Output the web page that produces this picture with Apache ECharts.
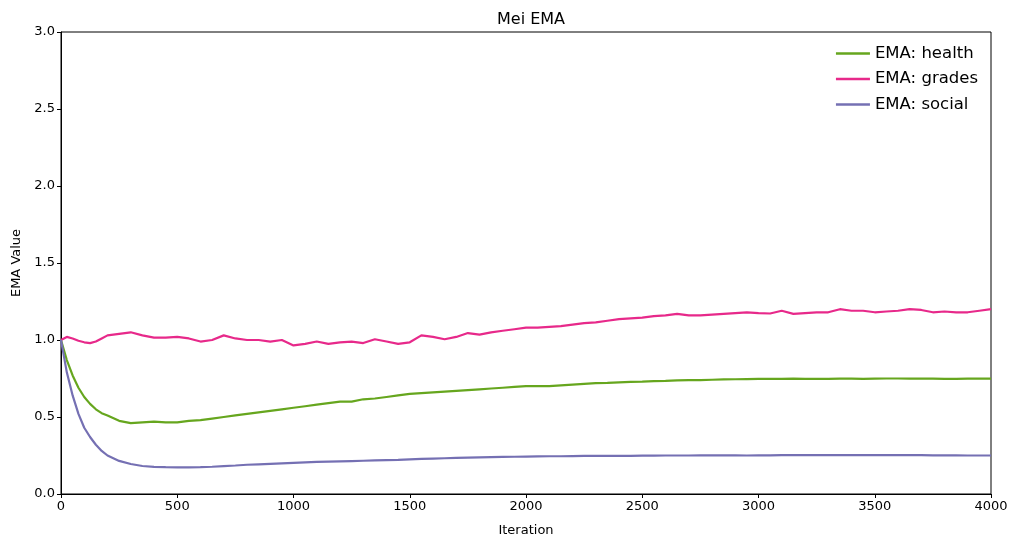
<!DOCTYPE html>
<html>
<head>
<meta charset="utf-8">
<script src="https://cdn.jsdelivr.net/npm/echarts@6/dist/echarts.min.js"></script>
<style>
  html, body { margin: 0; padding: 0; background: #fff; }
  #chart { width: 1018px; height: 547px; }
</style>
</head>
<body>
<div id="chart"></div>
<script>
// iteration numbers (x)
var iterations = [0, 25, 50, 75, 100, 125, 150, 175,
  200, 250, 300, 350, 400, 450, 500, 550, 600, 650,
  700, 750, 800, 850, 900, 950, 1000, 1050, 1100, 1150,
  1200, 1250, 1300, 1350, 1400, 1450, 1500, 1550, 1600, 1650,
  1700, 1750, 1800, 1850, 1900, 1950, 2000, 2050, 2100, 2150,
  2200, 2250, 2300, 2350, 2400, 2450, 2500, 2550, 2600, 2650,
  2700, 2750, 2800, 2850, 2900, 2950, 3000, 3050, 3100, 3150,
  3200, 3250, 3300, 3350, 3400, 3450, 3500, 3550, 3600, 3650,
  3700, 3750, 3800, 3850, 3900, 3950, 4000];

var health = [1.0, 0.87, 0.77, 0.69, 0.63, 0.585, 0.55, 0.525,
  0.51, 0.475, 0.46, 0.465, 0.47, 0.465, 0.465, 0.475, 0.48, 0.49,
  0.5, 0.51, 0.52, 0.53, 0.54, 0.55, 0.56, 0.57, 0.58, 0.59,
  0.6, 0.6, 0.615, 0.62, 0.63, 0.64, 0.65, 0.655, 0.66, 0.665,
  0.67, 0.675, 0.68, 0.685, 0.69, 0.695, 0.7, 0.7, 0.7, 0.705,
  0.71, 0.715, 0.72, 0.722, 0.725, 0.728, 0.73, 0.733, 0.735, 0.738,
  0.74, 0.74, 0.742, 0.744, 0.745, 0.746, 0.747, 0.748, 0.748, 0.749,
  0.748, 0.747, 0.748, 0.749, 0.749, 0.748, 0.749, 0.75, 0.75, 0.749,
  0.749, 0.749, 0.748, 0.748, 0.749, 0.749, 0.749];

var grades = [1.0, 1.02, 1.01, 0.995, 0.985, 0.98, 0.99, 1.01,
  1.03, 1.04, 1.05, 1.03, 1.015, 1.015, 1.02, 1.01, 0.99, 1.0,
  1.03, 1.01, 1.0, 1.0, 0.99, 1.0, 0.965, 0.975, 0.99, 0.975,
  0.985, 0.99, 0.98, 1.005, 0.99, 0.975, 0.985, 1.03, 1.02, 1.005,
  1.02, 1.045, 1.035, 1.05, 1.06, 1.07, 1.08, 1.08, 1.085, 1.09,
  1.1, 1.11, 1.115, 1.125, 1.135, 1.14, 1.145, 1.155, 1.16, 1.17,
  1.16, 1.16, 1.165, 1.17, 1.175, 1.18, 1.175, 1.172, 1.19, 1.17,
  1.175, 1.18, 1.18, 1.2, 1.19, 1.19, 1.18, 1.185, 1.19, 1.2,
  1.195, 1.18, 1.185, 1.18, 1.18, 1.19, 1.2];

var social = [1.0, 0.79, 0.64, 0.52, 0.43, 0.37, 0.32, 0.28,
  0.25, 0.215, 0.195, 0.182, 0.176, 0.174, 0.173, 0.173, 0.174, 0.177,
  0.181, 0.185, 0.19, 0.193, 0.196, 0.199, 0.202, 0.205, 0.208, 0.21,
  0.212, 0.214, 0.216, 0.218, 0.22, 0.222, 0.225, 0.228, 0.23, 0.232,
  0.234, 0.236, 0.238, 0.24, 0.241, 0.242, 0.243, 0.244, 0.245, 0.245,
  0.246, 0.247, 0.248, 0.248, 0.248, 0.248, 0.249, 0.249, 0.25, 0.25,
  0.25, 0.251, 0.251, 0.251, 0.251, 0.25, 0.251, 0.251, 0.252, 0.252,
  0.252, 0.252, 0.252, 0.252, 0.252, 0.252, 0.252, 0.252, 0.252, 0.252,
  0.252, 0.251, 0.251, 0.251, 0.25, 0.25, 0.25];

var seriesNames = ['EMA: health', 'EMA: grades', 'EMA: social'];
var seriesColors = ['#66a61e', '#e7298a', '#7570b3'];
var seriesValues = [health, grades, social];

function pairs(values) {
  return iterations.map(function (it, i) { return [it, values[i]]; });
}

var chart = echarts.init(document.getElementById('chart'));
var font = 'DejaVu Sans';

var series = seriesNames.map(function (name, i) {
  return {
    name: name,
    type: 'line',
    data: pairs(seriesValues[i]),
    showSymbol: false,
    symbol: 'none',
    smooth: false,
    silent: true,
    lineStyle: { color: seriesColors[i], width: 2.2 },
    itemStyle: { color: seriesColors[i] }
  };
});

var axisCommon = {
  axisLine: { show: true, onZero: false, lineStyle: { color: '#000', width: 1 } },
  axisTick: { show: true, inside: false, length: 4, lineStyle: { color: '#000' } },
  splitLine: { show: false },
  nameLocation: 'middle',
  nameTextStyle: { color: '#000', fontSize: 13, fontFamily: font },
  axisLabel: { color: '#000', fontSize: 13, fontFamily: font, margin: 6 }
};

var option = {
  backgroundColor: '#fff',
  animation: false,
  title: {
    text: 'Mei EMA',
    left: 526,
    textAlign: 'center',
    top: 7,
    textStyle: { color: '#000', fontSize: 16, fontWeight: 'normal', fontFamily: font }
  },
  legend: {
    data: seriesNames,
    orient: 'vertical',
    right: 40,
    top: 45,
    padding: 0,
    itemWidth: 34,
    itemHeight: 14,
    itemGap: 8.5,
    icon: 'path://M0,6 L34,6 L34,8.5 L0,8.5 Z',
    textStyle: { color: '#000', fontSize: 16.5, fontFamily: font },
    selectedMode: false
  },
  grid: {
    left: 61, right: 27, top: 32, bottom: 53,
    show: true, borderColor: '#000', borderWidth: 1, backgroundColor: 'transparent'
  },
  xAxis: Object.assign({}, axisCommon, {
    type: 'value',
    min: 0, max: 4000, interval: 500,
    name: 'Iteration',
    nameGap: 30,
    axisLabel: Object.assign({}, axisCommon.axisLabel, {
      formatter: function (v) { return String(v); }
    })
  }),
  yAxis: Object.assign({}, axisCommon, {
    type: 'value',
    min: 0, max: 3, interval: 0.5,
    name: 'EMA Value',
    nameGap: 37,
    axisLabel: Object.assign({}, axisCommon.axisLabel, {
      formatter: function (v) { return v.toFixed(1); }
    })
  }),
  series: series
};

chart.setOption(option);
</script>
</body>
</html>
